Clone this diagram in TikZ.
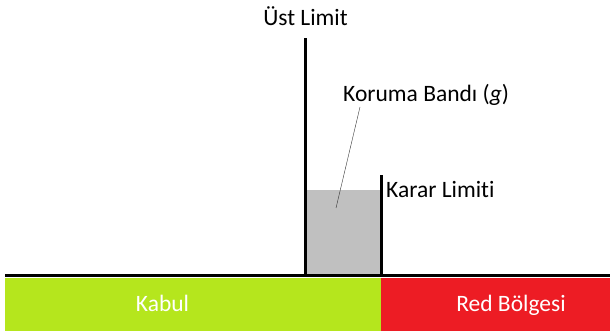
\documentclass[tikz,border=0pt]{standalone}
\usepackage{fontspec}
\setmainfont{Carlito}[Ligatures=NoCommon]
\usetikzlibrary{positioning}
\definecolor{kbx}{RGB}{181,230,29}
\definecolor{rdx}{RGB}{237,28,36}
\definecolor{gbx}{RGB}{192,192,192}
\tikzset{
    lbl/.style={font=\fontsize{23.5}{26}\selectfont,inner sep=0pt},
    zone/.style={lbl,white},
    post/.style={line width=3pt},
}

\begin{document}
\begin{tikzpicture}[x=1pt,y=-1pt]
        \useasboundingbox (0,0) rectangle (610,334);

        \fill [kbx] (5,278) rectangle (381,331);
        \fill [rdx] (381,278) rectangle (610,331);
        \fill [gbx] (305,190) rectangle (381,275);

        \draw [line width=3pt] (5,275) -- (610,275);
        \draw [post] (305,276) -- (305,38);
        \draw [post] (381,276) -- (381,175);

        \node [lbl,anchor=base] (ust) at (305.5,26) {Üst Limit};
        \node [lbl,anchor=base west] (karar) at (386,197) {Karar Limiti};
        \node [lbl,anchor=base west] (koruma) at (343,102) {Koruma Bandı (\textit{g})};
        \coordinate (tip) at (360,107);
        \coordinate (band) at (336,208);
        \draw [black!80] (tip) -- (band);

        \node [zone,anchor=base] (kabul) at (162.5,311.5) {Kabul};
        \node [zone,anchor=base] (red) at (511,311.5) {Red Bölgesi};
    \end{tikzpicture}
\end{document}
